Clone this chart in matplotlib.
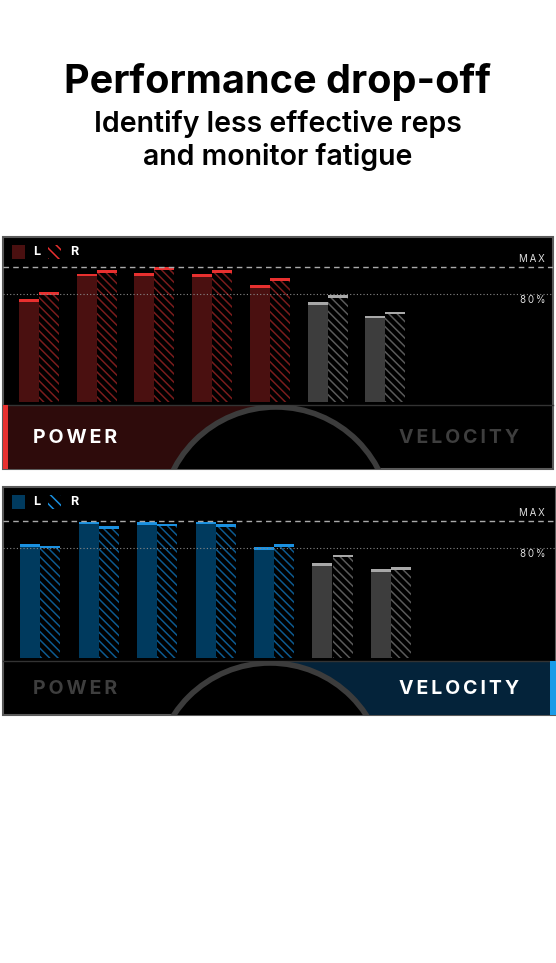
import matplotlib
matplotlib.use('Agg')
import matplotlib.pyplot as plt
from matplotlib.patches import Rectangle, Circle
import numpy as np

plt.rcParams['font.family'] = ['Inter', 'DejaVu Sans']
plt.rcParams['hatch.linewidth'] = 1.1

# 数据: 每组 L / R 百分比 (MAX = 100)
reps = [1, 2, 3, 4, 5, 6, 7]
power_l = [76, 95, 95.5, 94.5, 86.5, 74, 64]
power_r = [81.5, 97.5, 100, 97.5, 92, 79, 67]
velocity_l = [83, 99.5, 99, 99.5, 81, 69, 65]
velocity_r = [82, 96, 98, 97.5, 83, 75.5, 66.5]
active_count = 5  # 前 5 次有效, 其余为灰色

W, H = 556, 963
fig = plt.figure(figsize=(W / 100, H / 100), dpi=100)
fig.patch.set_facecolor('white')

# 全图像素坐标的装饰层
bg = fig.add_axes([0, 0, 1, 1])
bg.set_xlim(0, W)
bg.set_ylim(H, 0)
bg.axis('off')

bg.text(278, 82, 'Performance drop-off', ha='center', va='center', fontsize=28.5, fontweight='bold', color='black')
bg.text(278, 124, 'Identify less effective reps', ha='center', va='center', fontsize=20.5, fontweight='semibold', color='black')
bg.text(278, 157, 'and monitor fatigue', ha='center', va='center', fontsize=20.5, fontweight='semibold', color='black')


def spaced(s):
    return '\u2009'.join(s)


def panel(top, bottom, strip_top, x1, base_y, max_y, pair_c, pair_w, vals_l, vals_r,
          main, cap, hatch_col, fill, accent, power_active):
    # 背景框
    bg.add_patch(Rectangle((3, top), x1 - 3, bottom - top, facecolor='black', edgecolor='#5a5a5a', lw=1.5, zorder=1))
    # 底部条
    if power_active:
        bg.add_patch(Rectangle((3, strip_top), 262, bottom - strip_top, facecolor=fill, lw=0, zorder=2))
        bg.add_patch(Rectangle((3, strip_top), 5, bottom - strip_top, facecolor=accent, lw=0, zorder=4))
    else:
        bg.add_patch(Rectangle((270, strip_top), x1 - 270, bottom - strip_top, facecolor=fill, lw=0, zorder=2))
        bg.add_patch(Rectangle((x1 - 6, strip_top), 6, bottom - strip_top, facecolor=accent, lw=0, zorder=4))
    bg.plot([3, x1], [strip_top, strip_top], color='#333333', lw=1, zorder=3)
    r = 115
    cx = 276 if power_active else 270
    circ = Circle((cx, strip_top + 2 + r), r, facecolor='black', edgecolor='#3c3c3c', lw=4, zorder=3)
    bg.add_patch(circ)
    circ.set_clip_path(Rectangle((3, strip_top), x1 - 3, bottom - strip_top, transform=bg.transData))
    mid = (strip_top + bottom) / 2 + 1
    bg.text(33, mid, spaced('POWER'), ha='left', va='center', fontsize=14, fontweight='bold',
            color='white' if power_active else '#3e3e3e', zorder=5)
    bg.text(519, mid, spaced('VELOCITY'), ha='right', va='center', fontsize=14, fontweight='bold',
            color='#3e3e3e' if power_active else 'white', zorder=5)
    # 图例
    ly = top + 8
    bg.add_patch(Rectangle((12, ly), 13, 14, facecolor=main, lw=0, zorder=5))
    bg.text(33, ly + 7, 'L', va='center', fontsize=9, fontweight='bold', color='white', zorder=5)
    bg.add_patch(Rectangle((48, ly), 13, 14, facecolor='black', edgecolor=cap, hatch='\\\\\\', lw=0, zorder=5))
    bg.text(70, ly + 7, 'R', va='center', fontsize=9, fontweight='bold', color='white', zorder=5)
    unit = (base_y - max_y) / 100
    y80 = base_y - 80 * unit
    bg.text(545, max_y - 8, spaced('MAX'), ha='right', va='center', fontsize=7, color='#dddddd', zorder=5)
    bg.text(545, y80 + 6, spaced('80%'), ha='right', va='center', fontsize=7, color='#dddddd', zorder=5)

    # 柱状图层
    ax = fig.add_axes([3 / W, 1 - base_y / H, (x1 - 3) / W, (base_y - top - 2) / H])
    ax.set_xlim((3 - pair_c) / pair_w, (x1 - pair_c) / pair_w)
    ax.set_ylim(0, (base_y - top - 2) / unit)
    ax.axis('off')
    ax.patch.set_alpha(0)
    ax.axhline(100, color='#aaaaaa', lw=1, ls=(0, (4, 3)))
    ax.axhline(80, color='#888888', lw=0.8, ls=(0, (1, 2)))
    x = np.arange(len(reps))
    w = 20 / pair_w
    for i in x:
        on = i < active_count
        fc = main if on else '#3d3d3d'
        hc = hatch_col if on else '#5a5a5a'
        cc = cap if on else '#a8a8a8'
        ax.bar(i - w / 2, vals_l[i], w, color=fc, lw=0)
        ax.bar(i + w / 2, vals_r[i], w, facecolor='black', edgecolor=hc, hatch='\\\\\\\\', lw=0)
        ax.bar(i - w / 2, 2, w, bottom=vals_l[i] - 2, color=cc, lw=0)
        ax.bar(i + w / 2, 2, w, bottom=vals_r[i] - 2, color=cc, lw=0)


panel(237, 469, 405, 553, 402, 267, 39, 57.7, power_l, power_r,
      '#4a1010', '#e8302f', '#7a1c1c', '#2e0b0b', '#e8302f', True)
panel(487, 715, 661, 556, 658, 521, 40, 58.5, velocity_l, velocity_r,
      '#003a5e', '#1a90e0', '#0d5a90', '#04233a', '#1a9be8', False)

fig.savefig('out.png', dpi=100, facecolor='white')
